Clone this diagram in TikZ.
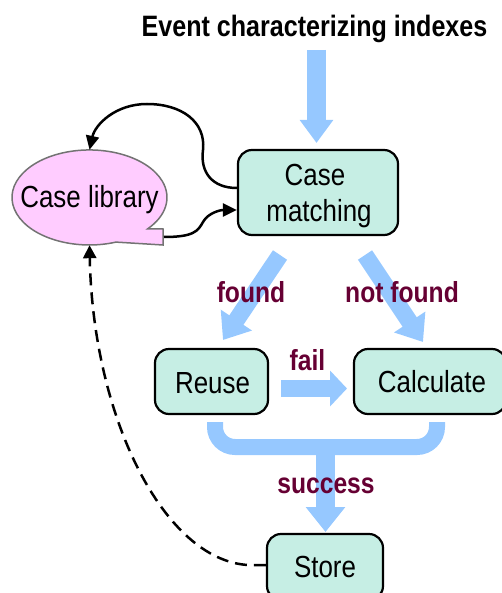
\documentclass[tikz,border=0pt]{standalone}
\usepackage{fontspec}
\setmainfont{Liberation Sans}[FakeStretch=0.85]
\usetikzlibrary{arrows.meta,calc,shapes.geometric}
\definecolor{flowblue}{RGB}{150,200,255}
\definecolor{boxfill}{RGB}{198,238,228}
\definecolor{libfill}{RGB}{255,204,255}
\definecolor{maroon}{RGB}{102,0,51}
\tikzset{
  procbox/.style={draw=black, line width=2.2pt, fill=boxfill, rounded corners=14pt, inner sep=0pt},
  boxtext/.style={anchor=base, font=\fontsize{30.5}{36}\selectfont, inner sep=0pt},
  condtext/.style={anchor=base, font=\fontsize{29}{34}\selectfont\bfseries, text=maroon, inner sep=0pt},
  flow/.style={draw=flowblue, line width=17pt},
  blackcurve/.style={draw=black, line width=2.5pt, -{Triangle[length=14pt,width=13pt]}},
}
\begin{document}
\begin{tikzpicture}[x=1pt,y=-1pt]
\useasboundingbox (0,0) rectangle (502,593);

% title
\node[anchor=base, font=\fontsize{29.5}{36}\selectfont\bfseries, inner sep=0pt] (title) at (314.5,37) {Event characterizing indexes};

% boxes
\node[procbox, minimum width=160pt, minimum height=85pt] (match) at (318,192.5) {};
\node[boxtext] (matchA) at (315,186) {Case};
\node[boxtext] (matchB) at (319,222) {matching};

\node[procbox, minimum width=113pt, minimum height=65pt] (reuse) at (211.5,381.5) {};
\node[boxtext] (reuseT) at (212.5,393) {Reuse};

\node[procbox, minimum width=152pt, minimum height=65pt] (calc) at (430,381.5) {};
\node[boxtext] (calcT) at (432,392) {Calculate};

\node[procbox, minimum width=116pt, minimum height=66pt] (store) at (325,567) {};
\node[boxtext] (storeT) at (325,577) {Store};

% case library (ellipse with notch)
\path[fill=libfill, draw=gray!90!black, line width=1.5pt]
  (116,242.1) arc[start angle=70, end angle=401.5, x radius=77.5, y radius=47.5]
  -- (163,229) -- (163,245) -- cycle;
\node[ellipse, minimum width=155pt, minimum height=95pt, inner sep=0pt] (lib) at (89.5,197.5) {};
\node[boxtext] (libT) at (89.5,208) {Case library};
\coordinate (libtail) at (164,237);

% blue flow arrows
\coordinate (inA) at (316.5,50);
\coordinate (inB) at (316.5,143);
\draw[flow, line width=19pt, -{Triangle[length=23pt,width=32pt]}] (inA) -- (inB);

\coordinate (fA) at (280,255);
\coordinate (fB) at (223,340);
\draw[flow, -{Triangle[length=24pt,width=36pt]}] (fA) -- (fB);

\coordinate (nA) at (365,255);
\coordinate (nB) at (423,342);
\draw[flow, -{Triangle[length=24pt,width=36pt]}] (nA) -- (nB);

\coordinate (failA) at (281,388.5);
\coordinate (failB) at (347,388.5);
\draw[flow, -{Triangle[length=17pt,width=35pt]}] (failA) -- (failB);

\draw[flow, line width=16pt, rounded corners=20pt] (215,422) -- (215,447) -- (437,447) -- (437,422);
\coordinate (sA) at (325.5,447);
\coordinate (sB) at (325.5,532);
\draw[flow, line width=19pt, -{Triangle[length=25pt,width=38pt]}] (sA) -- (sB);

% condition labels
\node[condtext] (foundT) at (251,302) {found};
\node[condtext] (notfoundT) at (402,302) {not found};
\node[condtext] (failT) at (307.5,370) {fail};
\node[condtext] (succT) at (326,493) {success};

% black connectors
\coordinate (m1) at ($(match.west)+(0,-4.5)$);
\coordinate (m2) at ($(match.west)+(0,17.5)$);
\draw[blackcurve] (m1) .. controls (212,188) and (200,172) .. (203,150)
  .. controls (206,122) and (182,104) .. (147,104)
  .. controls (115,104) and (95,125) .. (lib.north);
\draw[blackcurve] (libtail) .. controls (194,237) and (198,231) .. (203,222)
  .. controls (208,213) and (220,210) .. (m2);

\coordinate (s1) at ($(store.west)+(0,-2)$);
\draw[draw=black, line width=2.5pt, dash pattern=on 12pt off 7pt, -{Triangle[length=13pt,width=13pt]}]
  (s1) -- ++(-18,0) .. controls (165,560) and (93,420) .. (lib.south);
\end{tikzpicture}
\end{document}
